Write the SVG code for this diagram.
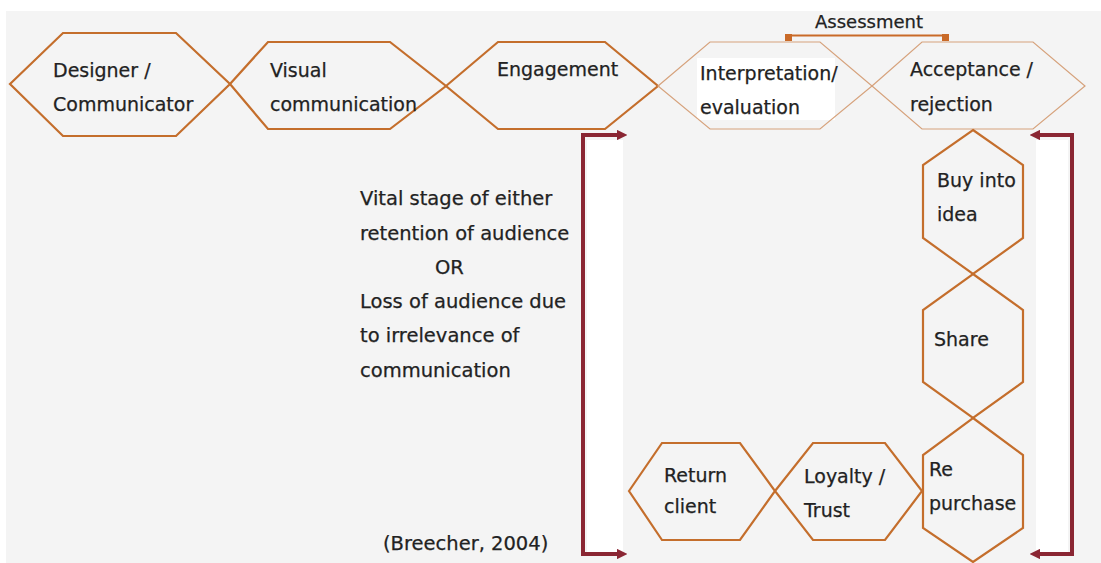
<svg xmlns="http://www.w3.org/2000/svg" width="1101" height="563" viewBox="0 0 1101 563">
  <style>
    .hex { fill: none; stroke: #C46E2C; stroke-width: 2.2; stroke-linejoin: miter; }
    .hex-thin { fill: none; stroke: #D6A27C; stroke-width: 1.2; }
    .lbl { font-family: "DejaVu Sans", "Liberation Sans", sans-serif; font-size: 19px; fill: #222222; stroke: #222222; stroke-width: 0.25; }
    .note { font-family: "DejaVu Sans", "Liberation Sans", sans-serif; font-size: 19.5px; fill: #222222; stroke: #222222; stroke-width: 0.25; }
    .loop { fill: none; stroke: #8A2633; stroke-width: 4; }
  </style>
  <defs>
    <marker id="head" viewBox="0 0 10 10" refX="2" refY="5" markerWidth="2.6" markerHeight="2.6" orient="auto-start-reverse" markerUnits="strokeWidth">
      <path d="M0,0 L10,5 L0,10 Z" fill="#8A2633"/>
    </marker>
  </defs>

  <!-- page -->
  <rect x="0" y="0" width="1101" height="563" fill="#F4F4F4"/>
  <rect x="0" y="0" width="1101" height="11" fill="#FFFFFF"/>
  <rect x="0" y="0" width="6" height="563" fill="#FFFFFF"/>
  <rect x="587" y="140" width="36" height="412" fill="#FFFFFF"/>
  <rect x="1036" y="140" width="32" height="412" fill="#FFFFFF"/>
  <rect x="697" y="58" width="138" height="62" fill="#FFFFFF"/>

  <!-- assessment bracket -->
  <g id="assessment">
    <path d="M788,40 V35.5 H945 V40" fill="none" stroke="#C96A28" stroke-width="2"/>
    <rect x="785" y="34" width="7" height="7" fill="#C96A28"/>
    <rect x="942" y="34" width="7" height="7" fill="#C96A28"/>
    <text class="lbl" x="815" y="28" style="font-size:18px">Assessment</text>
  </g>

  <!-- feedback loops -->
  <g id="connectors">
    <path class="loop" d="M619,135 H583 V554 H619" marker-start="url(#head)" marker-end="url(#head)"/>
    <path class="loop" d="M1038,135 H1072 V554 H1038" marker-start="url(#head)" marker-end="url(#head)"/>
  </g>

  <!-- top row -->
  <g id="designer">
    <polygon class="hex" points="10,84 63,33 176,33 230,84 176,136 63,136"/>
    <text class="lbl" x="53" y="77">Designer /</text>
    <text class="lbl" x="53" y="111">Communicator</text>
  </g>
  <g id="visual">
    <polygon class="hex" points="230,84 268,42 390,42 446,86 390,129 268,129"/>
    <text class="lbl" x="270" y="77">Visual</text>
    <text class="lbl" x="270" y="111">communication</text>
  </g>
  <g id="engagement">
    <polygon class="hex" points="446,86 498,42 605,42 658,86 605,129 498,129"/>
    <text class="lbl" x="497" y="76">Engagement</text>
  </g>
  <g id="interpretation">
    <polygon class="hex-thin" points="658,86 710,42 820,42 872,86 820,129 710,129"/>
    <text class="lbl" x="700" y="80">Interpretation/</text>
    <text class="lbl" x="700" y="114">evaluation</text>
  </g>
  <g id="acceptance">
    <polygon class="hex-thin" points="872,86 922,42 1033,42 1085,86 1033,129 922,129"/>
    <text class="lbl" x="910" y="76">Acceptance /</text>
    <text class="lbl" x="910" y="111">rejection</text>
  </g>

  <!-- right column -->
  <g id="buy">
    <polygon class="hex" points="973,130 1023,165 1023,238 973,274 923,238 923,165"/>
    <text class="lbl" x="937" y="187">Buy into</text>
    <text class="lbl" x="937" y="221">idea</text>
  </g>
  <g id="share">
    <polygon class="hex" points="973,274 1023,310 1023,382 973,418 923,382 923,310"/>
    <text class="lbl" x="934" y="346">Share</text>
  </g>
  <g id="repurchase">
    <polygon class="hex" points="973,418 1023,455 1023,528 973,562 923,528 923,455"/>
    <text class="lbl" x="929" y="476">Re</text>
    <text class="lbl" x="929" y="510">purchase</text>
  </g>

  <!-- bottom row -->
  <g id="loyalty">
    <polygon class="hex" points="775,491 813,443 885,443 922,491 885,540 813,540"/>
    <text class="lbl" x="804" y="483">Loyalty /</text>
    <text class="lbl" x="804" y="517">Trust</text>
  </g>
  <g id="return">
    <polygon class="hex" points="629,491 662,443 740,443 775,491 740,540 662,540"/>
    <text class="lbl" x="664" y="482">Return</text>
    <text class="lbl" x="664" y="513">client</text>
  </g>

  <!-- commentary -->
  <g id="note">
    <text class="note" x="360" y="205">Vital stage of either</text>
    <text class="note" x="360" y="240">retention of audience</text>
    <text class="note" x="435" y="274">OR</text>
    <text class="note" x="360" y="308">Loss of audience due</text>
    <text class="note" x="360" y="342">to irrelevance of</text>
    <text class="note" x="360" y="377">communication</text>
    <text class="note" x="383" y="550">(Breecher, 2004)</text>
  </g>
</svg>
